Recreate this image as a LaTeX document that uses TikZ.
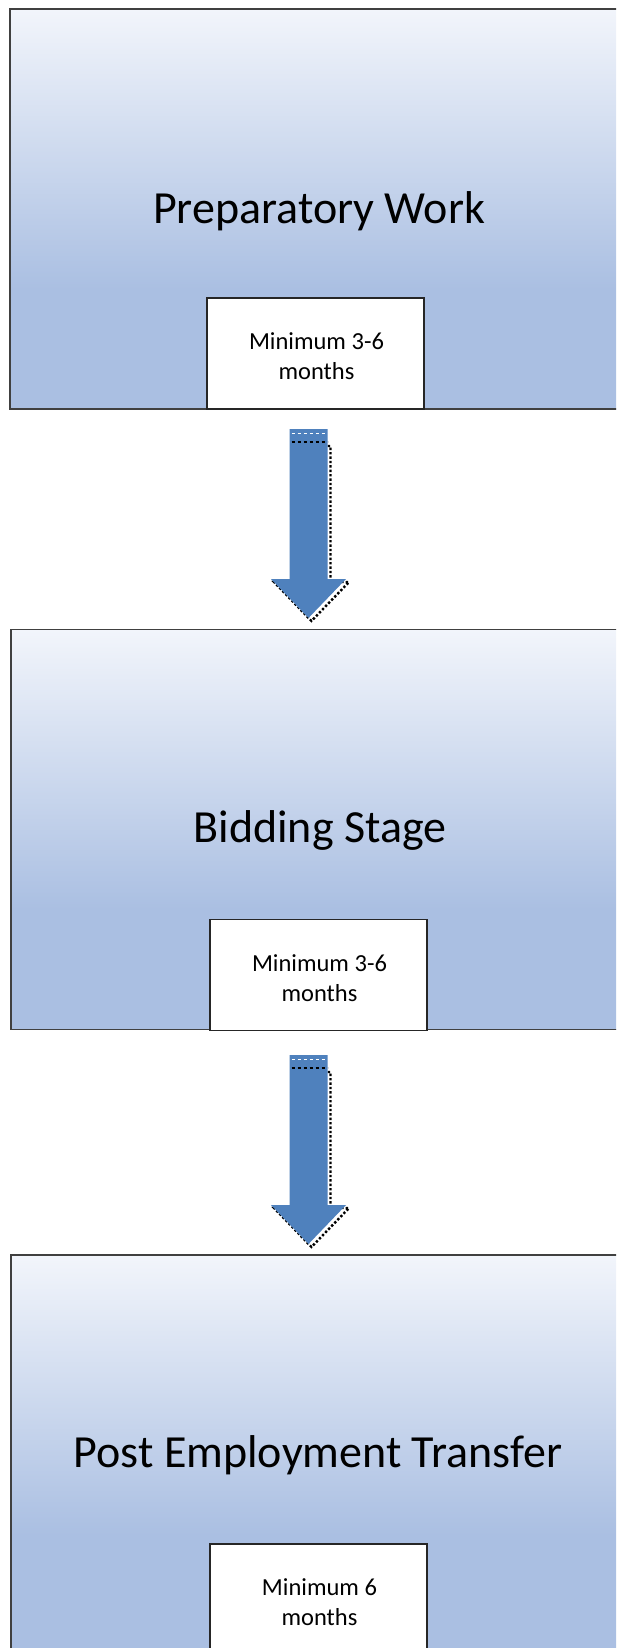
\documentclass[tikz,border=0pt]{standalone}
\usepackage{fontspec}
\setmainfont{Carlito}
\definecolor{hi}{HTML}{F2F5FB}
\definecolor{lo}{HTML}{AABFE2}
\definecolor{edge}{HTML}{404040}
\definecolor{arrowblue}{HTML}{4F81BD}
\pgfdeclareverticalshading{stagefill}{100bp}{color(0bp)=(lo); color(40bp)=(lo); color(75bp)=(hi); color(100bp)=(hi)}
\tikzset{
  stage/.style={rectangle, draw=edge, line width=1.5pt, shading=stagefill, minimum width=630pt, minimum height=400pt, inner sep=0pt},
  title/.style={font=\fontsize{46}{54}\selectfont, text=black, inner sep=0pt, anchor=base},
  durbox/.style={rectangle, draw=black!85, line width=1.4pt, fill=white, minimum width=217pt, minimum height=111pt, inner sep=0pt},
  durtext/.style={font=\fontsize{24.5}{30}\selectfont, align=center, text=black, inner sep=0pt},
  blockarrow/.pic={
    \draw[black, dotted, line width=2.4pt, shift={(3,3)}] (-19,14) -- (19,14) -- (19,150) -- (37.5,150) -- (0,189) -- (-37.5,150) -- (-19,150) -- cycle;
    \fill[arrowblue] (-19,0) -- (19,0) -- (19,150) -- (37.5,150) -- (0,189) -- (-37.5,150) -- (-19,150) -- cycle;
    \draw[white, dashed, line width=0.9pt] (-17,4) -- (17,4);
    \draw[black, dashed, line width=1.2pt] (-17,13) -- (19,13);
  }
}
\begin{document}
\begin{tikzpicture}[x=1pt, y=-1pt]
\clip (0,0) rectangle (616,1648);
\fill[white] (0,0) rectangle (616,1648);
% stage 1
\node[stage] (s1) at (325,209) {};
\node[title] (t1) at (319,223) {Preparatory Work};
\node[durbox] (d1) at (315.5,353.5) {};
\node[durtext] (d1t) at (316.5,356) {Minimum 3-6\\months};
% stage 2
\node[stage] (s2) at (326,829.5) {};
\node[title] (t2) at (320,842) {Bidding Stage};
\node[durbox] (d2) at (318.5,975) {};
\node[durtext] (d2t) at (319.5,978) {Minimum 3-6\\months};
% stage 3
\node[stage] (s3) at (326,1455) {};
\node[title] (t3) at (318,1467) {Post Employment Transfer};
\node[durbox] (d3) at (318.5,1599.5) {};
\node[durtext] (d3t) at (319.5,1602) {Minimum 6\\months};
% arrows
\coordinate (a1) at (308.5,429);
\coordinate (a2) at (308.5,1055);
\pic at (a1) {blockarrow};
\pic at (a2) {blockarrow};
\end{tikzpicture}
\end{document}
